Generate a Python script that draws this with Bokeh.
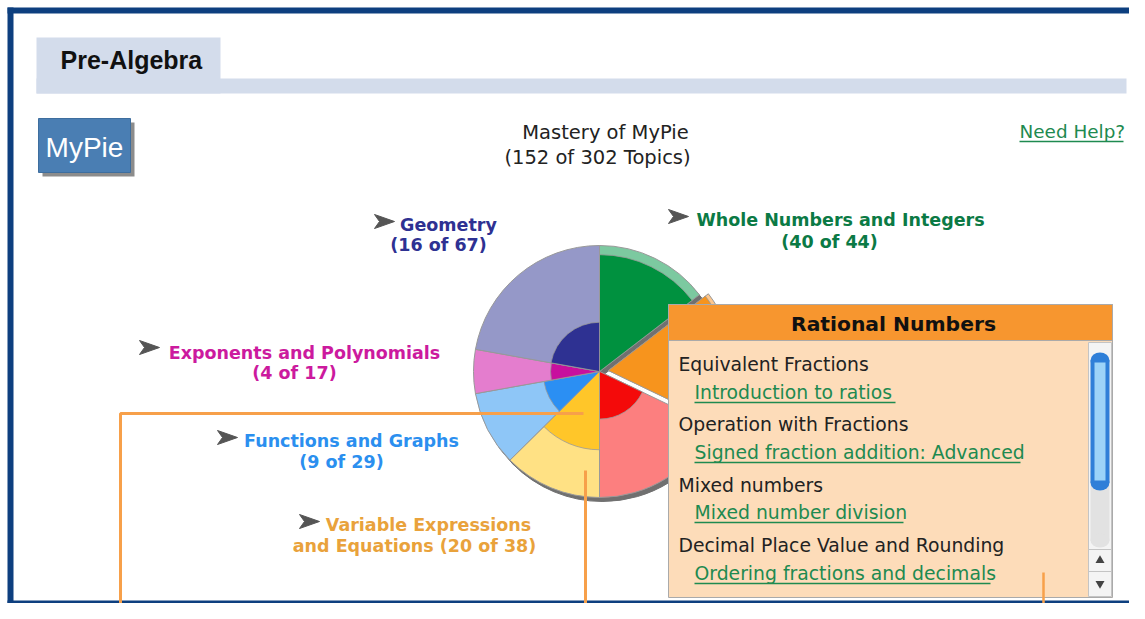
import math
from bokeh.plotting import figure
from bokeh.models import Range1d
from bokeh.core.properties import value
from bokeh.embed import file_html
from bokeh.resources import INLINE

# ---------------- data ----------------
categories = ["Whole Numbers and Integers", "Rational Numbers",
              "Percents, Proportions, and Rates",
              "Variable Expressions and Equations", "Functions and Graphs",
              "Exponents and Polynomials", "Geometry"]
topics_total = [44, 53, 54, 38, 29, 17, 67]
topics_mastered = [40, 51, 12, 20, 9, 4, 16]
dark_colors = ["#00913F", "#F7941D", "#F40A0A", "#FFC629", "#2B8FF3", "#C8109E", "#2E3192"]
light_colors = ["#7CC9A0", "#FDC68C", "#FC7F7F", "#FFE184", "#8EC6F7", "#E47DCE", "#9598C8"]
label_colors = ["#0B7A45", None, None, "#E9A23B", "#2B8FEF", "#CC1A9E", "#2E3192"]
exploded = "Rational Numbers"

page_title = "Pre-Algebra"
chart_title = "Mastery of MyPie"
popup_title = "Rational Numbers"
popup_topics = ["Equivalent Fractions", "Operation with Fractions",
                "Mixed numbers", "Decimal Place Value and Rounding"]
popup_links = ["Introduction to ratios", "Signed fraction addition: Advanced",
               "Mixed number division", "Ordering fractions and decimals"]

# ---------------- layout (screen pixel coordinates) ----------------
W, H = 1129, 603
p = figure(width=W, height=H, output_backend="svg", toolbar_location=None,
           x_range=Range1d(0, W), y_range=Range1d(H, 0),
           min_border=0, outline_line_color=None, background_fill_color="white")
p.axis.visible = False
p.grid.visible = False

FONT = value("DejaVu Sans")
ARIAL = value("Liberation Sans")

# frame
navy = "#0D3F7F"
p.line([10, 10], [7, 603], line_color=navy, line_width=6)
p.line([7, 1129], [10, 10], line_color=navy, line_width=6)
p.line([7, 1129], [601.5, 601.5], line_color=navy, line_width=3)

# tab
tab_col = "#D3DCEB"
p.quad(left=[36], right=[220], top=[37], bottom=[93], fill_color=tab_col, line_color=None)
p.quad(left=[36], right=[1126], top=[78], bottom=[93], fill_color=tab_col, line_color=None)
p.text(x=[60], y=[59], text=[page_title], text_font=ARIAL, text_font_style="bold",
       text_font_size="25px", text_color="#111111", text_baseline="middle")

# MyPie button
p.quad(left=[42], right=[134], top=[122], bottom=[176], fill_color="#8C8C8C", line_color=None)
p.quad(left=[38], right=[130], top=[118], bottom=[172], fill_color="#4A7EB3", line_color="#3E6E9E")
p.text(x=[84], y=[147], text=["MyPie"], text_font=ARIAL, text_font_size="28px",
       text_color="white", text_align="center", text_baseline="middle")

# title
total_all = sum(topics_total)
mast_all = sum(topics_mastered)
p.text(x=[605, 597], y=[132, 157],
       text=[chart_title, f"({mast_all} of {total_all} Topics)"],
       text_font=FONT, text_font_size="19.5px", text_color="#222222",
       text_align="center", text_baseline="middle")

# Need help
link_green = "#1E8A50"
p.text(x=[1019], y=[131], text=["Need Help?"], text_font=FONT, text_font_size="18.4px",
       text_color=link_green, text_baseline="middle")
p.line([1019, 1123], [141, 141], line_color=link_green, line_width=1.3)

# ---------------- pie ----------------
cx, cy, R = 599, 371, 126
explode_d = 9
cum = [0]
for t in topics_total:
    cum.append(cum[-1] + t)

def ang(v):
    return v / total_all * 2 * math.pi

wedges = []
for i, name in enumerate(categories):
    a0, a1 = ang(cum[i]), ang(cum[i + 1])
    mid = (a0 + a1) / 2
    if name == exploded:
        ox, oy = explode_d * math.sin(mid), -explode_d * math.cos(mid)
    else:
        ox, oy = 0.0, 0.0
    frac = topics_mastered[i] / topics_total[i]
    r_in = R * (0.2 + 0.8 * frac)
    wedges.append(dict(x=cx + ox, y=cy + oy, start=math.pi / 2 - a1, end=math.pi / 2 - a0,
                       r_in=r_in, dark=dark_colors[i], light=light_colors[i],
                       shadow=(name != exploded)))

# shadows
for w in wedges:
    if w["shadow"]:
        p.wedge(x=w["x"] + 3, y=w["y"] + 4, radius=R, start_angle=w["start"], end_angle=w["end"],
                direction="anticlock", fill_color="#707070", line_color="#707070")
for w in wedges:
    p.wedge(x=w["x"], y=w["y"], radius=R, start_angle=w["start"], end_angle=w["end"],
            direction="anticlock", fill_color=w["light"], line_color="#999999", line_width=1)
    p.wedge(x=w["x"], y=w["y"], radius=w["r_in"], start_angle=w["start"], end_angle=w["end"],
            direction="anticlock", fill_color=w["dark"], line_color="#999999", line_width=0.8)

# labels
label_layout = {
    "Geometry": dict(arrow=(374, 221), lines=[("Geometry", 448, 224)], sub=(438, 244)),
    "Whole Numbers and Integers": dict(arrow=(668, 216), lines=[("Whole Numbers and Integers", 840, 219)], sub=(829, 241)),
    "Exponents and Polynomials": dict(arrow=(139, 347), lines=[("Exponents and Polynomials", 304, 352)], sub=(294, 372)),
    "Functions and Graphs": dict(arrow=(217, 437), lines=[("Functions and Graphs", 351, 440)], sub=(341, 461)),
    "Variable Expressions and Equations": dict(arrow=(299, 521), lines=[("Variable Expressions", 428, 524)], sub=(414, 545), sub_prefix="and Equations "),
}
for i, name in enumerate(categories):
    if name not in label_layout:
        continue
    L = label_layout[name]
    col = label_colors[i]
    ax, ay = L["arrow"]
    p.patch([ax, ax + 20, ax, ax + 5], [ay - 7, ay, ay + 7, ay], fill_color="#555555", line_color="#555555")
    for txt, tx, ty in L["lines"]:
        p.text(x=[tx], y=[ty], text=[txt], text_font=FONT, text_font_style="bold",
               text_font_size="17.5px", text_color=col, text_align="center", text_baseline="middle")
    sx, sy = L["sub"]
    sub = L.get("sub_prefix", "") + f"({topics_mastered[i]} of {topics_total[i]})"
    p.text(x=[sx], y=[sy], text=[sub], text_font=FONT, text_font_style="bold",
           text_font_size="17.5px", text_color=col, text_align="center", text_baseline="middle")

# orange guide lines
guide = "#F7A04A"
p.line([583, 120, 120], [413, 413, 619], line_color=guide, line_width=3)
p.line([585, 585], [470, 619], line_color=guide, line_width=3)

# ---------------- popup ----------------
p.quad(left=[668], right=[1112], top=[304], bottom=[597], fill_color="#FDDCB9", line_color="#AAAAAA")
p.quad(left=[668], right=[1112], top=[304], bottom=[340], fill_color="#F7962F", line_color="#AAAAAA")
p.text(x=[893], y=[323], text=[popup_title], text_font=FONT, text_font_style="bold",
       text_font_size="20.3px", text_color="#111111", text_align="center", text_baseline="middle")

topic_y = [364, 424, 485, 545]
link_y = [392, 452, 512, 573]
underline_end = [895, 1020, 903, 990]
p.text(x=[678] * 4, y=topic_y, text=popup_topics, text_font=FONT, text_font_size="18.8px",
       text_color="#222222", text_baseline="middle")
p.text(x=[694] * 4, y=link_y, text=popup_links, text_font=FONT, text_font_size="18.8px",
       text_color=link_green, text_baseline="middle")
p.multi_line(xs=[[694, e] for e in underline_end], ys=[[y + 10, y + 10] for y in link_y],
             line_color=link_green, line_width=1.3)

# scrollbar
p.quad(left=[1088], right=[1111], top=[342], bottom=[596], fill_color="#F4F4F4", line_color="#C4C4C4")
p.quad(left=[1090], right=[1109], top=[470], bottom=[540], fill_color="#E2E2E2", line_color=None)
p.ellipse(x=[1099.5], y=[540], width=19, height=14, fill_color="#E2E2E2", line_color=None)
p.ellipse(x=[1099.5, 1099.5], y=[360, 482], width=19, height=16, fill_color="#2F7FD8", line_color=None)
p.quad(left=[1090], right=[1109], top=[360], bottom=[482], fill_color="#2F7FD8", line_color=None)
p.quad(left=[1094], right=[1105], top=[362], bottom=[480], fill_color="#9CD3F8", line_color=None)
p.line([1088, 1111], [549, 549], line_color="#C4C4C4")
p.line([1088, 1111], [571, 571], line_color="#C4C4C4")
p.scatter(x=[1099.5], y=[560], marker="triangle", size=9, fill_color="#444444", line_color=None)
p.scatter(x=[1099.5], y=[583], marker="inverted_triangle", size=9, fill_color="#444444", line_color=None)

p.line([1043, 1043], [572, 619], line_color=guide, line_width=2.5)

open("out.html", "w").write(file_html(p, INLINE))
